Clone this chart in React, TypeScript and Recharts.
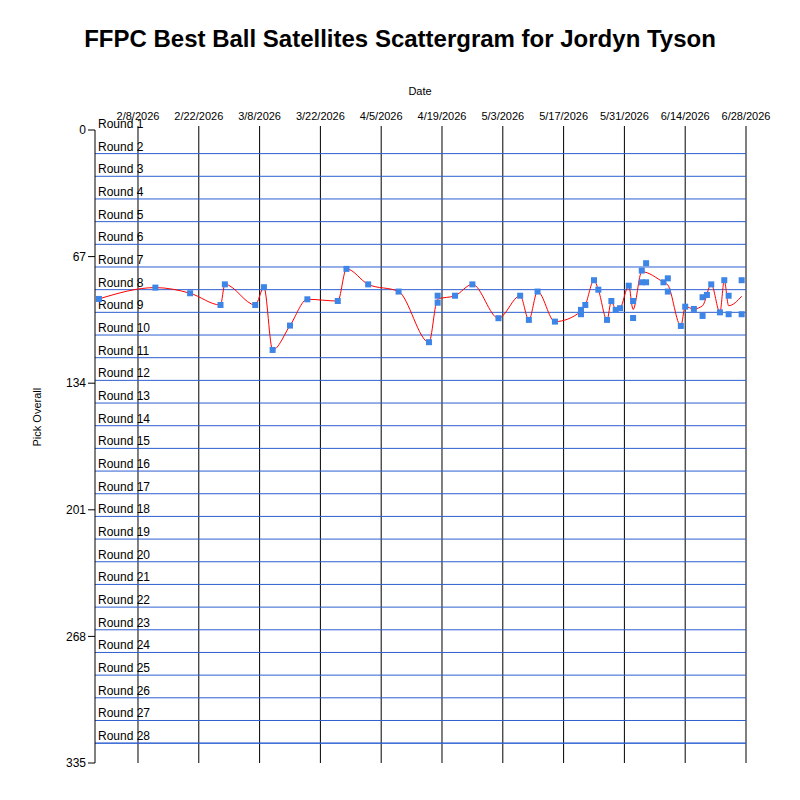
import React from 'react';
import {
  ComposedChart,
  Scatter,
  Line,
  XAxis,
  YAxis,
  ReferenceLine,
  Label,
} from 'recharts';

// days are counted from 2/8/2026
const dateTicks = [0, 14, 28, 42, 56, 70, 84, 98, 112, 126, 140];
const dateLabels = ['2/8/2026', '2/22/2026', '3/8/2026', '3/22/2026', '4/5/2026', '4/19/2026', '5/3/2026', '5/17/2026', '5/31/2026', '6/14/2026', '6/28/2026'];
const pickTicks = [0, 67, 134, 201, 268, 335];
const rounds = Array.from({ length: 28 }, (_, i) => i + 1);

const pickDays = [-9, 4, 12, 19, 20, 27, 29, 31, 35, 39, 46, 48, 53, 60, 67, 69, 69, 73, 77, 83, 88, 90, 92, 96, 102, 102, 103, 105, 106, 108, 109, 110, 111, 113, 114, 114, 116, 116, 117, 117, 121, 122, 122, 125, 126, 128, 130, 130, 131, 132, 134, 135, 136, 136, 139, 139];
const pickValues = [89.4, 83.4, 86.4, 92.6, 81.7, 92.6, 83.2, 116.4, 103.5, 89.6, 90.5, 73.5, 81.7, 85.5, 112.3, 87.7, 91.4, 87.7, 81.7, 99.6, 87.7, 100.5, 85.5, 101.4, 97.5, 95.2, 92.6, 79.5, 84.5, 100.5, 90.5, 95.2, 94.3, 82.4, 90.5, 99.5, 74.4, 80.6, 80.6, 70.5, 80.6, 78.5, 85.5, 103.7, 93.5, 94.7, 98.4, 88.5, 87.3, 81.7, 96.5, 79.5, 87.7, 97.5, 79.5, 97.5];

const trendDays = [-9, 4, 12, 19, 20, 27, 29, 31, 35, 39, 46, 48, 53, 60, 67, 69, 73, 77, 83, 88, 90, 92, 96, 102, 103, 105, 106, 108, 109, 110, 111, 113, 114, 116, 121, 122, 125, 126, 128, 130, 132, 134, 135, 136, 139];
const trendValues = [89.4, 83.4, 86.4, 92.6, 81.7, 92.6, 83.2, 116.4, 103.5, 89.6, 90.5, 73.5, 81.7, 85.5, 112.3, 89.5, 87.7, 81.7, 99.6, 87.7, 100.5, 85.5, 101.4, 96, 92.6, 79.5, 84.5, 100.5, 90.5, 95, 94.3, 82.4, 95, 75, 80.6, 82, 103.7, 93.5, 94.7, 93, 81.7, 96.5, 79.5, 93, 88];

const scatterData = pickDays.map((d, i) => ({ day: d, pick: pickValues[i] }));
const trendData = trendDays.map((d, i) => ({ day: d, pick: trendValues[i] }));

const FONT = 'Arial, "Liberation Sans", sans-serif';

const Square = (props: any) => (
  <rect x={props.cx - 3} y={props.cy - 3} width={6} height={6} fill="#3d85e6" />
);

const roundLabel = (n: number) => (props: any) => {
  const vb = props.viewBox;
  return (
    <text x={vb.x + 3} y={vb.y - 3} fontSize={12} fontFamily={FONT} fill="#000">
      {`Round ${n}`}
    </text>
  );
};

export default function App() {
  return (
    <div style={{ position: 'absolute', left: 0, top: 0, width: 800, height: 800, background: '#fff', fontFamily: FONT }}>
      <div style={{ position: 'absolute', top: 25, width: 800, textAlign: 'center', fontSize: 24, fontWeight: 'bold' }}>
        FFPC Best Ball Satellites Scattergram for Jordyn Tyson
      </div>
      <div style={{ position: 'absolute', top: 85, width: 840, textAlign: 'center', fontSize: 11 }}>Date</div>
      <ComposedChart
        width={800}
        height={800}
        margin={{ top: 110, right: 54, bottom: 37, left: 55 }}
      >
        <XAxis
          type="number"
          dataKey="day"
          orientation="top"
          domain={[-9.9, 140]}
          ticks={dateTicks}
          interval={0}
          tickFormatter={(v) => dateLabels[dateTicks.indexOf(v)]}
          height={20}
          allowDataOverflow
          axisLine={false}
          tickSize={4}
          tick={{ fontSize: 11, fill: '#000', fontFamily: FONT, dy: -4 }}
          stroke="#000"
        />
        <YAxis
          type="number"
          dataKey="pick"
          reversed
          domain={[0, 335]}
          ticks={pickTicks}
          width={40}
          tickSize={7}
          tick={{ fontSize: 12, fill: '#000', fontFamily: FONT }}
          stroke="#000"
          interval={0}
        >
          <Label value="Pick Overall" angle={-90} position="insideLeft" offset={-18} style={{ fontSize: 11, fill: '#000', fontFamily: FONT }} />
        </YAxis>
        {dateTicks.map((d) => (
          <ReferenceLine key={`d${d}`} x={d} stroke="#000" strokeWidth={1} />
        ))}
        {rounds.map((n) => (
          <ReferenceLine
            key={n}
            y={(n - 1) * 12 + 0.5}
            stroke={n === 1 ? 'none' : '#2d5fd0'}
            strokeWidth={1}
            label={roundLabel(n)}
          />
        ))}
        <ReferenceLine y={28 * 12 + 0.5 - 12} stroke="#2d5fd0" />
        <Line
          data={trendData}
          dataKey="pick"
          type="monotone"
          stroke="#ff0000"
          strokeWidth={1}
          dot={false}
          isAnimationActive={false}
        />
        <Scatter data={scatterData} dataKey="pick" shape={Square} isAnimationActive={false} />
      </ComposedChart>
    </div>
  );
}
